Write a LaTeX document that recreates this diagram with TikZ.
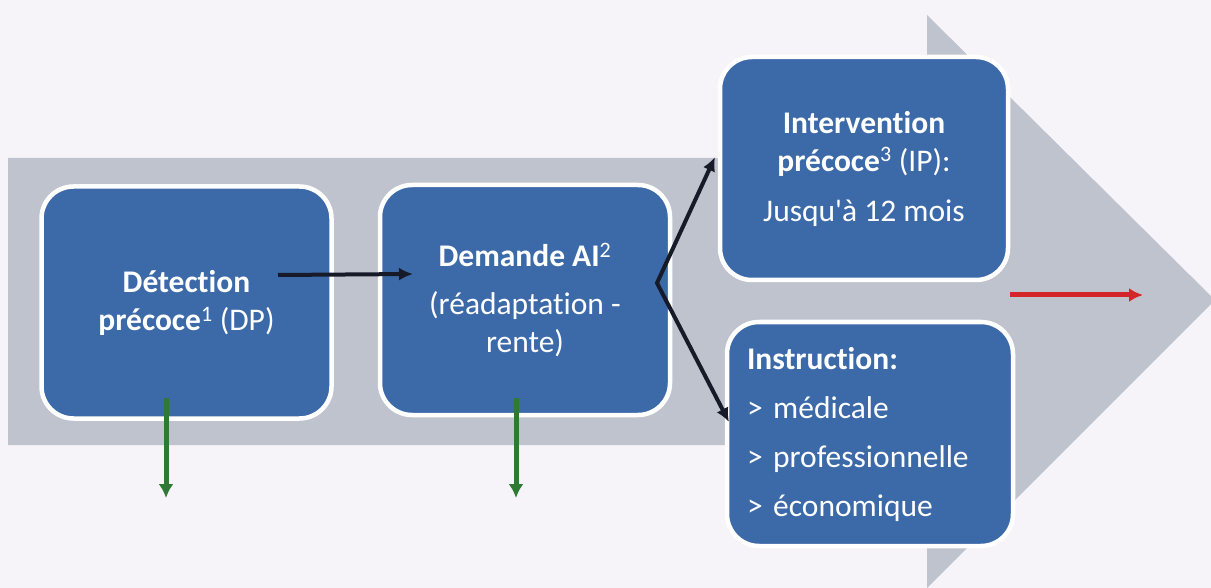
\documentclass[tikz,border=0pt]{standalone}
\usepackage{fontspec}
\setmainfont{Carlito}[Ligatures={TeX,NoCommon}]
\usetikzlibrary{arrows.meta,calc}

\definecolor{bgpaper}{HTML}{F6F4F8}
\definecolor{flowgrey}{HTML}{BFC3CD}
\definecolor{stepblue}{HTML}{3C6AA9}
\definecolor{linkdark}{HTML}{171A28}
\definecolor{outred}{HTML}{D2262B}
\definecolor{outgreen}{HTML}{2E7A34}

\begin{document}
\begin{tikzpicture}[x=1pt,y=-1pt,
  stepbox/.style={draw=white, line width=4.5pt, fill=stepblue, rounded corners=32pt,
    text=white, inner sep=0pt, align=center,
    font=\fontsize{31.5}{38}\selectfont},
  linkhead/.tip={Latex[length=14pt,width=13pt]},
  link/.style={draw=linkdark, line width=4pt, -linkhead},
  forklink/.style={draw=linkdark, line width=4pt, line join=miter, linkhead-linkhead},
  outgreenarrow/.style={draw=outgreen, line width=5pt, -{Latex[length=14pt,width=15pt]}},
  outredarrow/.style={draw=outred, line width=5pt, -{Latex[length=14pt,width=14pt]}}]

% paper and frame
\fill[bgpaper] (0,0) rectangle (1211,588);
\useasboundingbox (0,0) rectangle (1211,588);

% large grey process arrow
\fill[flowgrey] (8,158) -- (927,158) -- (927,15) -- (1215,300) -- (927,588)
  -- (927,445) -- (8,445) -- cycle;

% process steps
\node[stepbox, minimum width=290pt, minimum height=232pt] (dp) at (186.5,302.5)
  {\textbf{Détection}\\ \textbf{précoce}\textsuperscript{1} (DP)};
\node[stepbox, minimum width=290pt, minimum height=230pt] (ai) at (525,300)
  {\textbf{Demande AI}\textsuperscript{2}\\[10pt] (réadaptation -\\ rente)};
\node[stepbox, minimum width=288pt, minimum height=223pt] (ip) at (864,168.5)
  {\textbf{Intervention}\\ \textbf{précoce}\textsuperscript{3} (IP):\\[12pt] Jusqu\textquotesingle à 12 mois};
\node[stepbox, minimum width=286pt, minimum height=224pt, text width=246pt, align=left]
  (ins) at (870,434)
  {\textbf{Instruction:}\\[11pt] > médicale\\[11pt] > professionnelle\\[11pt] > économique};

% connectors between steps
\coordinate (fork) at ($(ai.center)+(132,-17)$);
\draw[link] ($(dp.center)+(91.5,-27.5)$) -- ($(ai.center)+(-112,-26)$);
\draw[forklink] ($(ip.center)+(-149,-11.5)$) -- (fork) -- ($(ins.center)+(-141,-12)$);

% outgoing arrows
\coordinate (dpout) at (166,498);
\coordinate (aiout) at (516,498);
\draw[outgreenarrow] ($(dp.center)+(-20.5,95.5)$) -- (dpout);
\draw[outgreenarrow] ($(ai.center)+(-9,98)$) -- (aiout);

\coordinate (redstart) at (1010,295);
\coordinate (redend) at (1143,295);
\draw[outredarrow] (redstart) -- (redend);

\end{tikzpicture}
\end{document}
